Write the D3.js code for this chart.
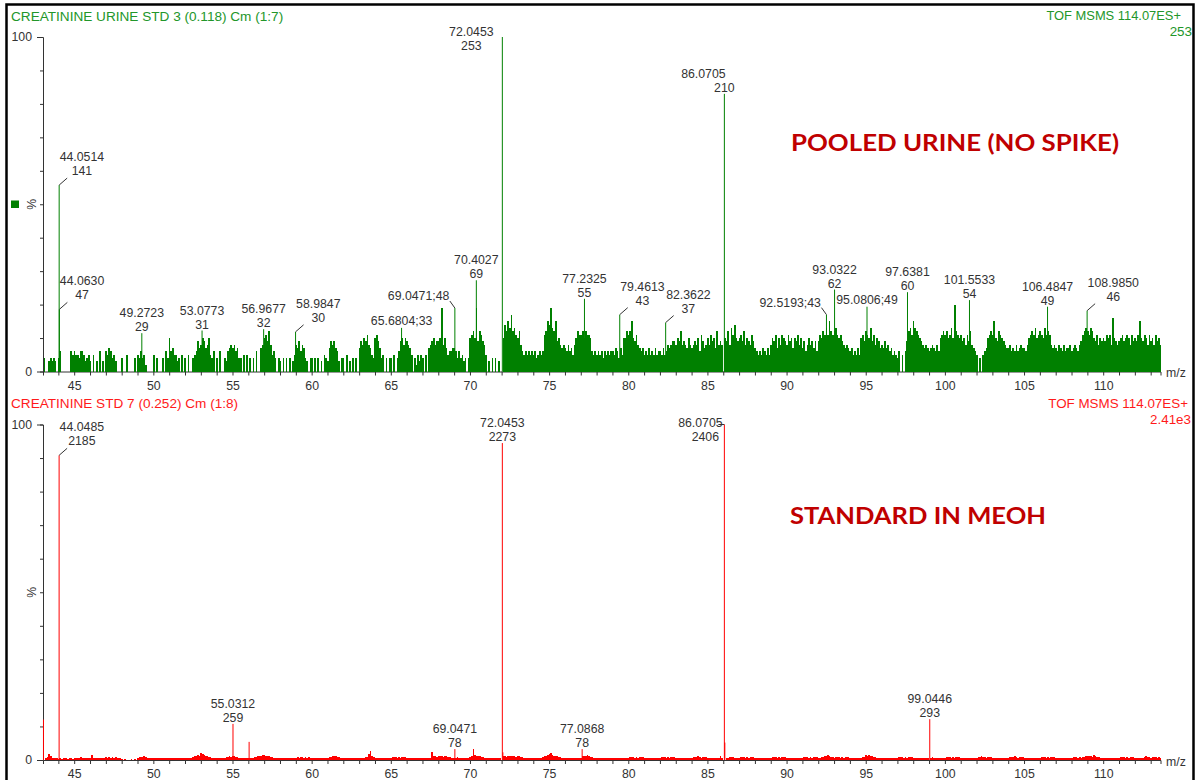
<!DOCTYPE html>
<html>
<head>
<meta charset="utf-8">
<script src="https://cdn.jsdelivr.net/npm/d3@7"></script>
<style>
  html, body { margin: 0; padding: 0; background: #fff; }
  svg { display: block; font-family: "Liberation Sans", Arial, sans-serif; }
</style>
</head>
<body>
<svg id="chart" width="1203" height="780"></svg>
<script>
// ---- shared m/z axis ----
const mzRange = [43.03, 113.62];
const mzMinorTicks = d3.range(44, 114);
const mzLabelTicks = [45, 50, 55, 60, 65, 70, 75, 80, 85, 90, 95, 100, 105, 110];
const pctTicks = [0, 10, 20, 30, 40, 50, 60, 70, 80, 90, 100];

// ---- pooled urine (no spike) ----
const urineTitle = "CREATININE URINE STD 3 (0.118) Cm (1:7)";
const urineScan = "TOF MSMS 114.07ES+";
const urineBaseText = "253";
const urineBaseCounts = 253;
const urineNote = "POOLED URINE (NO SPIKE)";
const urinePeakMz = [44.0514, 44.0630, 49.2723, 53.0773, 56.9677, 58.9847, 65.6804, 69.0471, 70.4027, 72.0453,
                     77.2325, 79.4613, 82.3622, 86.0705, 92.5193, 93.0322, 95.0806, 97.6381, 101.5533, 106.4847, 108.9850];
const urinePeakCounts = [141, 47, 29, 31, 32, 30, 33, 48, 69, 253, 55, 43, 37, 210, 43, 62, 49, 60, 54, 49, 46];
// background ions, relative intensity (%) per 0.1 m/z, one base-36 digit each, rows start at nominal mass 43
const urineNoiseStart = 43;
const urineNoise = [
  "0400343430", "4600000065", "6554665345", "3050306030", "6576453000", "4005000040", "5464520000", "5040004064",
  "a675534050", "4050045697", "8a978a5460", "4060043678", "7867440505", "0404060078", "ab9c856404", "3040404035",
  "8796874304", "4040403054", "3798976304", "4050304040", "798a9b8754", "ab97450404", "4050469a8a", "9875042535",
  "4050789a89", "9aj8a75667", "7646453404", "abcaj9cb98", "5030404030", "0aecfdhcdb", "ac86565656", "5645656bcf",
  "ejdcf9a878", "7686758acb", "bcacbba656", "5656465656", "6576475aac", "bcfa9b8767", "5657565756", "6575687899",
  "8a9c8987a8", "7898a6b978", "a8b9a7c898", "0a9c8dbea9", "ab9c8a98b9", "7656576575", "8a9b7a8ba9", "8b9a7a9b8a",
  "7968a89796", "9bacbdbfcb", "cdbab98787", "6756575ab9", "cbad9b8a97", "8797867565", "4605069cdb", "fdcba98787",
  "6787686abc", "bcabdakcba", "b9a8b9c876", "5040567abc", "bfa9cba987", "7867686787", "768abcbdab", "cbadbcb878",
  "7687686778", "6787689bcd", "cbdca9b8a9", "a9bab8ga98", "9ab9aba8b9", "a9bfa9ba8b", "9a8b9a8000"
];

// ---- creatinine standard in methanol ----
const stdTitle = "CREATININE STD 7 (0.252) Cm (1:8)";
const stdScan = "TOF MSMS 114.07ES+";
const stdBaseText = "2.41e3";
const stdBaseCounts = 2406;
const stdNote = "STANDARD IN MEOH";
const stdPeakMz = [43.06, 44.0485, 55.0312, 56.05, 69.0471, 72.0453, 72.08, 77.0868, 86.0705, 86.10, 99.0446];
const stdPeakCounts = [290, 2185, 259, 130, 78, 2273, 55, 78, 2406, 125, 293];
// background ions, relative intensity in tenths of a percent per 0.1 m/z
const stdNoiseStart = 43;
const stdNoise = [
  "0068f96546", "3435443453", "5465746564", "4c54645456", "7676867654", "2121112121", "6878976545", "4545454545",
  "5656565465", "565668abcb", "ifcba87565", "5656567898", "9a87656565", "5656789abc", "cba9876565", "5656565656",
  "6767868676", "5656565656", "6789a98765", "5656565656", "565678fmb7", "6565656565", "6787686787", "5656565656",
  "565656kb98", "9a98a98765", "5676565656", "8arcba9876", "6565656565", "0b98a9b9a8", "a987656565", "5656567abc",
  "ficba98765", "5656565656", "6a9bc98765", "5656565656", "5656565656", "6787686787", "5656565656", "6787686787",
  "5656565656", "6787a86787", "5656565696", "0056787656", "6787686787", "5656565656", "6787686787", "5656565656",
  "6787686787", "5678a9c987", "6787686787", "5656565678", "dbca987656", "5656565656", "6787686787", "5656565656",
  "0676565656", "6787686787", "5656565656", "6789876787", "5656565656", "6787a86787", "5656565656", "6787686787",
  "5656565656", "6787686789", "ab98c98765", "5656565656", "6787686787", "5656568987", "6787686000"
];

// ---- label placement for each peak (null = no annotation) ----
const urineLabelStyle = ["leader", "leader", "above", "above", "above", "leader", "inline", "inlineLeft", "above", "topLeft",
                         "above", "leader", "leader", "leftOfTop", "inlineLeft", "above", "inline", "above", "above", "above", "leader"];
const stdLabelStyle = [null, "leader", "above", null, "above", "above", null, "above", "hookLeft", null, "above"];

const svg = d3.select("#chart");
const x = d3.scaleLinear().domain(mzRange).range([43, 1160.5]);

const panels = [
  {
    title: urineTitle, scan: urineScan, baseText: urineBaseText, base: urineBaseCounts, note: urineNote,
    mz: urinePeakMz, counts: urinePeakCounts, labels: urineLabelStyle,
    noise: urineNoise, noiseStart: urineNoiseStart, noiseUnit: 1,
    color: "#008000", textColor: "#22962a", y0: 371.5, y100: 37, top: 0, marker: true,
    scanRight: 1181, scanSize: 12.9, baseRight: 1192, noteX: 791, noteW: 328, noteY: 151
  },
  {
    title: stdTitle, scan: stdScan, baseText: stdBaseText, base: stdBaseCounts, note: stdNote,
    mz: stdPeakMz, counts: stdPeakCounts, labels: stdLabelStyle,
    noise: stdNoise, noiseStart: stdNoiseStart, noiseUnit: 0.12,
    color: "#ff0000", textColor: "#ff1a1a", y0: 760, y100: 424.5, top: 387.7, marker: false,
    scanRight: 1188, scanSize: 13.4, baseRight: 1191, noteX: 790, noteW: 256, noteY: 524
  }
];

const ink = "#333";

panels.forEach(p => {
  const y = d3.scaleLinear().domain([0, 100]).range([p.y0, p.y100]);
  const g = svg.append("g");

  // header texts
  g.append("text").attr("x", 11).attr("y", p.top + 20.5).attr("font-size", 13.6)
    .attr("fill", p.textColor).text(p.title);
  g.append("text").attr("x", p.scanRight).attr("y", p.top + 20.3).attr("font-size", p.scanSize)
    .attr("text-anchor", "end").attr("fill", p.textColor).text(p.scan);
  g.append("text").attr("x", p.baseRight).attr("y", p.top + 36).attr("font-size", 13.4)
    .attr("text-anchor", "end").attr("fill", p.textColor).text(p.baseText);

  // y axis (relative intensity)
  const yAxis = d3.axisLeft(y).tickValues(pctTicks)
    .tickSizeOuter(0).tickSize(3).tickPadding(8)
    .tickFormat(d => (d === 0 || d === 100) ? d : "");
  const ya = g.append("g").attr("transform", "translate(43,0)").call(yAxis);
  ya.select(".domain").attr("stroke", ink);
  ya.selectAll(".tick line").attr("stroke", ink)
    .attr("x2", d => (d === 0 || d === 100) ? -6 : -3);
  ya.selectAll(".tick text").attr("fill", ink).attr("font-size", 12.3)
    .attr("font-family", '"Liberation Sans", Arial, sans-serif');

  g.append("text")
    .attr("transform", `translate(36,${(p.y0 + p.y100) / 2}) rotate(-90)`)
    .attr("text-anchor", "middle").attr("font-size", 12.3).attr("fill", ink).text("%");

  if (p.marker) {
    g.append("rect").attr("x", 11).attr("y", 200.5).attr("width", 8).attr("height", 7.5).attr("fill", "#008000");
  }

  // x axis (m/z)
  const xAxis = d3.axisBottom(x).tickValues(mzMinorTicks)
    .tickSizeOuter(0).tickSize(4).tickPadding(5.5)
    .tickFormat(d => mzLabelTicks.includes(d) ? d : "");
  const xa = g.append("g").attr("transform", `translate(0,${p.y0})`).call(xAxis);
  xa.select(".domain").attr("stroke", ink);
  xa.selectAll(".tick line").attr("stroke", ink);
  xa.selectAll(".tick text").attr("fill", ink).attr("font-size", 12.3)
    .attr("font-family", '"Liberation Sans", Arial, sans-serif');

  g.append("text").attr("x", 1166).attr("y", p.y0 + 5.5).attr("font-size", 12.3)
    .attr("fill", ink).text("m/z");

  // background ions, snapped to whole pixels so neighbouring bins merge
  const noisePts = [];
  p.noise.forEach((row, i) => {
    row.split("").forEach((ch, j) => {
      const v = parseInt(ch, 36) * p.noiseUnit;
      const mz = p.noiseStart + i + j / 10 + 0.02;
      if (v > 0 && mz > mzRange[0] && mz < mzRange[1]) noisePts.push({ mz, v });
    });
  });
  g.append("g").attr("shape-rendering", "crispEdges")
    .selectAll("line").data(noisePts).join("line")
    .attr("x1", d => x(d.mz)).attr("x2", d => x(d.mz))
    .attr("y1", p.y0).attr("y2", d => y(d.v))
    .attr("stroke", p.color).attr("stroke-width", 1.7);

  // annotated peaks
  const peaks = p.mz.map((m, i) => ({ mz: m, c: p.counts[i], pct: p.counts[i] / p.base * 100, style: p.labels[i] }));
  g.append("g").selectAll("line").data(peaks).join("line")
    .attr("x1", d => x(d.mz)).attr("x2", d => x(d.mz))
    .attr("y1", p.y0).attr("y2", d => y(d.pct))
    .attr("stroke", p.color).attr("stroke-width", 1);

  // peak labels
  const lg = g.append("g").attr("font-size", 12.3).attr("fill", ink);
  peaks.filter(d => d.style).forEach(d => {
    const px = x(d.mz), ty = y(d.pct);
    const mzTxt = d.mz.toFixed(4), cTxt = String(d.c);
    const leader = (x1, y1, x2, y2) => lg.append("line")
      .attr("x1", x1).attr("y1", y1).attr("x2", x2).attr("y2", y2)
      .attr("stroke", ink).attr("stroke-width", 1);
    if (d.style === "above") {
      lg.append("text").attr("x", px).attr("y", ty - 16).attr("text-anchor", "middle").text(mzTxt);
      lg.append("text").attr("x", px).attr("y", ty - 2).attr("text-anchor", "middle").text(cTxt);
    } else if (d.style === "leader") {
      leader(px, ty, px + 8, ty - 7);
      const t = lg.append("text").attr("x", px + 0.5).attr("y", ty - 24).text(mzTxt);
      const w = t.node().getComputedTextLength();
      lg.append("text").attr("x", px + 0.5 + w / 2).attr("y", ty - 10).attr("text-anchor", "middle").text(cTxt);
    } else if (d.style === "inline") {
      lg.append("text").attr("x", px).attr("y", ty - 2.5).attr("text-anchor", "middle").text(mzTxt + ";" + cTxt);
    } else if (d.style === "inlineLeft") {
      leader(px - 5, ty - 7, px, ty);
      lg.append("text").attr("x", px - 5.5).attr("y", ty - 8).attr("text-anchor", "end").text(mzTxt + ";" + cTxt);
    } else if (d.style === "topLeft") {
      lg.append("text").attr("x", px - 31).attr("y", ty - 1).attr("text-anchor", "middle").text(mzTxt);
      lg.append("text").attr("x", px - 31).attr("y", ty + 13).attr("text-anchor", "middle").text(cTxt);
    } else if (d.style === "leftOfTop") {
      lg.append("text").attr("x", px - 21).attr("y", ty - 16).attr("text-anchor", "middle").text(mzTxt);
      lg.append("text").attr("x", px).attr("y", ty - 2).attr("text-anchor", "middle").text(cTxt);
    } else if (d.style === "hookLeft") {
      leader(px - 6, ty, px, ty);
      lg.append("text").attr("x", px - 24).attr("y", ty + 2).attr("text-anchor", "middle").text(mzTxt);
      lg.append("text").attr("x", px - 19).attr("y", ty + 16).attr("text-anchor", "middle").text(cTxt);
    }
  });

  // sample annotation
  g.append("text").attr("x", p.noteX).attr("y", p.noteY)
    .attr("font-family", "Lato, 'Open Sans', sans-serif").attr("font-weight", 700)
    .attr("font-size", 23).attr("fill", "#c00000")
    .attr("textLength", p.noteW).attr("lengthAdjust", "spacingAndGlyphs")
    .text(p.note);
});

// outer frame
svg.append("rect").attr("x", 6.5).attr("y", 4.5).attr("width", 1187).attr("height", 800)
  .attr("fill", "none").attr("stroke", "#000").attr("stroke-width", 2.5);
</script>
</body>
</html>
